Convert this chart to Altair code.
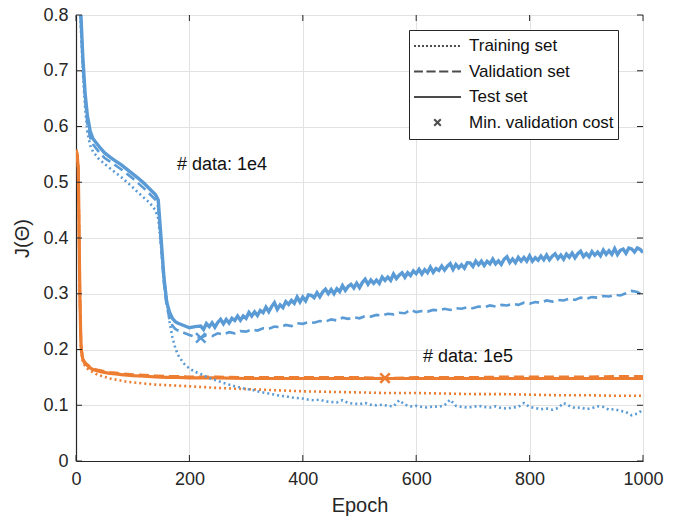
import altair as alt
import pandas as pd

# ---------------- data ----------------
blue_epochs_early = [0, 4, 8, 12, 16, 20, 25, 30, 40, 50,
                     60, 70, 80, 90, 100, 110, 120, 130, 140, 145,
                     150, 155, 160, 165, 170, 175, 180, 190, 200, 210]
blue_epochs_late = list(range(220, 1001, 10))      # train / validation sampling
blue_epochs_test_late = list(range(220, 1001, 5))  # test sampling (noisier)

blue_test_early = [0.98, 0.90, 0.815, 0.725, 0.66, 0.62, 0.592, 0.578, 0.565, 0.553,
                   0.545, 0.538, 0.531, 0.523, 0.515, 0.507, 0.498, 0.488, 0.478, 0.468,
                   0.40, 0.33, 0.285, 0.267, 0.256, 0.250, 0.247, 0.243, 0.239, 0.241]
blue_test_late = [
    0.242, 0.236, 0.2465, 0.241, 0.248, 0.240, 0.2485, 0.254, 0.246, 0.254,
    0.2475, 0.256, 0.252, 0.260, 0.2525, 0.260, 0.256, 0.2665, 0.260, 0.2675,
    0.261, 0.270, 0.266, 0.276, 0.268, 0.277, 0.284, 0.272, 0.280, 0.275,
    0.286, 0.281, 0.288, 0.283, 0.294, 0.285, 0.294, 0.287, 0.298, 0.297,
    0.293, 0.302, 0.2945, 0.303, 0.308, 0.300, 0.3075, 0.300, 0.309, 0.304,
    0.3145, 0.306, 0.313, 0.317, 0.3105, 0.319, 0.311, 0.320, 0.326, 0.317,
    0.3244, 0.3185, 0.3246, 0.3187, 0.3298, 0.3239, 0.330, 0.3241, 0.3352, 0.3273,
    0.3334, 0.3375, 0.3296, 0.3377, 0.3328, 0.3409, 0.336, 0.3438, 0.3355, 0.3433,
    0.338, 0.3478, 0.3385, 0.3453, 0.342, 0.3498, 0.3425, 0.3493, 0.354, 0.3438,
    0.3525, 0.3463, 0.352, 0.3458, 0.3555, 0.3553, 0.349, 0.3585, 0.3519, 0.3584,
    0.3508, 0.3583, 0.3537, 0.3622, 0.3536, 0.359, 0.3525, 0.3619, 0.3664, 0.3558,
    0.3623, 0.3557, 0.3652, 0.3586, 0.3651, 0.3585, 0.368, 0.3584, 0.3648, 0.3602,
    0.3676, 0.361, 0.3694, 0.3608, 0.3672, 0.3716, 0.363, 0.3694, 0.3618, 0.3712,
    0.3656, 0.373, 0.3644, 0.3718, 0.3762, 0.3666, 0.372, 0.3664, 0.3758, 0.3692,
    0.3746, 0.368, 0.3784, 0.3708, 0.3772, 0.3706, 0.381, 0.3704, 0.3778, 0.3802,
    0.3726, 0.382, 0.3804, 0.3748, 0.3822, 0.3796, 0.374]

blue_val = [0.97, 0.89, 0.805, 0.715, 0.65, 0.605, 0.58, 0.568, 0.555, 0.544,
            0.537, 0.530, 0.523, 0.515, 0.507, 0.498, 0.489, 0.479, 0.469, 0.455,
            0.39, 0.32, 0.278, 0.255, 0.243, 0.237, 0.234, 0.230, 0.226, 0.223,
            0.221, 0.226, 0.224, 0.229, 0.227, 0.231, 0.229, 0.233, 0.232, 0.236,
            0.234, 0.238, 0.237, 0.241, 0.240, 0.244, 0.242, 0.247, 0.246, 0.249,
            0.248, 0.251, 0.250, 0.254, 0.252, 0.257, 0.255, 0.258, 0.256, 0.260,
            0.259, 0.262, 0.261, 0.264, 0.263, 0.266, 0.265, 0.271, 0.267, 0.269,
            0.268, 0.271, 0.270, 0.273, 0.271, 0.274, 0.273, 0.276, 0.274, 0.277,
            0.276, 0.279, 0.277, 0.280, 0.279, 0.282, 0.280, 0.284, 0.282, 0.285,
            0.284, 0.288, 0.286, 0.289, 0.288, 0.291, 0.289, 0.293, 0.291, 0.294,
            0.293, 0.296, 0.295, 0.298, 0.297, 0.301, 0.305, 0.303, 0.298]

blue_train = [0.96, 0.88, 0.79, 0.70, 0.635, 0.59, 0.566, 0.555, 0.542, 0.533,
              0.525, 0.517, 0.509, 0.500, 0.491, 0.481, 0.472, 0.463, 0.450, 0.435,
              0.385, 0.33, 0.29, 0.25, 0.222, 0.203, 0.19, 0.175, 0.166, 0.160,
              0.156, 0.151, 0.147, 0.144, 0.140, 0.137, 0.134, 0.132, 0.129, 0.128,
              0.125, 0.123, 0.121, 0.119, 0.117, 0.116, 0.114, 0.113, 0.112, 0.110,
              0.109, 0.110, 0.107, 0.106, 0.105, 0.109, 0.104, 0.103, 0.102, 0.104,
              0.101, 0.100, 0.101, 0.099, 0.098, 0.109, 0.101, 0.098, 0.099, 0.097,
              0.096, 0.098, 0.097, 0.100, 0.110, 0.099, 0.097, 0.096, 0.097, 0.099,
              0.097, 0.096, 0.098, 0.095, 0.094, 0.096, 0.097, 0.104, 0.097, 0.095,
              0.093, 0.094, 0.092, 0.095, 0.104, 0.099, 0.095, 0.096, 0.093, 0.095,
              0.098, 0.097, 0.092, 0.093, 0.090, 0.088, 0.082, 0.085, 0.092]

orange_epochs = [0, 2, 4, 5, 6, 7, 8, 9, 10, 12,
                 15, 20, 25, 30, 40, 50, 60, 70, 80, 90,
                 100, 120, 140, 160, 180, 200, 250, 300, 350, 400,
                 450, 500, 545, 600, 650, 700, 750, 800, 850, 900,
                 950, 1000]

orange_test = [0.558, 0.550, 0.525, 0.45, 0.36, 0.29, 0.24, 0.205, 0.195, 0.183,
               0.176, 0.171, 0.167, 0.164, 0.161, 0.159, 0.157, 0.156, 0.155, 0.154,
               0.153, 0.152, 0.151, 0.150, 0.150, 0.149, 0.149, 0.148, 0.148, 0.148,
               0.148, 0.148, 0.148, 0.148, 0.148, 0.148, 0.148, 0.148, 0.148, 0.148,
               0.148, 0.148]

orange_val = [0.558, 0.550, 0.525, 0.45, 0.36, 0.29, 0.24, 0.207, 0.197, 0.185,
              0.178, 0.173, 0.169, 0.166, 0.163, 0.161, 0.159, 0.158, 0.157, 0.156,
              0.155, 0.154, 0.153, 0.152, 0.152, 0.151, 0.151, 0.150, 0.150, 0.150,
              0.150, 0.150, 0.1485, 0.150, 0.150, 0.150, 0.151, 0.151, 0.151, 0.151,
              0.152, 0.152]

orange_train = [0.558, 0.550, 0.525, 0.45, 0.36, 0.29, 0.235, 0.20, 0.19, 0.178,
                0.172, 0.166, 0.162, 0.159, 0.154, 0.151, 0.148, 0.146, 0.144, 0.142,
                0.141, 0.139, 0.137, 0.136, 0.135, 0.134, 0.131, 0.129, 0.127, 0.125,
                0.124, 0.123, 0.122, 0.122, 0.121, 0.120, 0.120, 0.119, 0.118, 0.118,
                0.117, 0.117]

min_epoch = [220, 545]
min_cost = [0.221, 0.1485]

annot_epoch = [178, 612]
annot_cost = [0.531, 0.186]
annot_text = ["# data: 1e4", "# data: 1e5"]

x_ticks = [0, 200, 400, 600, 800, 1000]
y_ticks = [0, 0.1, 0.2, 0.3, 0.4, 0.5, 0.6, 0.7, 0.8]

legend_labels = ["Training set", "Validation set", "Test set", "Min. validation cost"]

# ---------------- styling ----------------
BLUE = "#5B9BD5"
ORANGE = "#ED7D31"
AXC = "#262626"
FONT = "Liberation Sans"
W, H = 567, 446

xs = alt.Scale(domain=[0, 1000], nice=False, zero=False)
ys = alt.Scale(domain=[0, 0.8], nice=False)

xax = alt.Axis(values=x_ticks, format="d", title="Epoch", grid=True, gridColor="#e2e2e2", gridWidth=1,
               tickSize=0, domainColor=AXC, domainWidth=1.2, labelFont=FONT, labelFontSize=18,
               labelColor=AXC, labelPadding=9, labelFlush=False, labelOverlap=False,
               titleFont=FONT, titleFontSize=20, titleFontWeight="normal", titleColor=AXC,
               titlePadding=7)
yax = alt.Axis(values=y_ticks, format=".1~f", title="J(Θ)", grid=True, gridColor="#e2e2e2",
               gridWidth=1, tickSize=0, domainColor=AXC, domainWidth=1.2, labelFont=FONT,
               labelFontSize=18, labelColor=AXC, labelPadding=8, labelFlush=False,
               labelOverlap=False, titleFont=FONT, titleFontSize=20, titleFontWeight="normal",
               titleColor=AXC, titlePadding=10)


def line_layer(ep, vals, color, dash=None, width=3.0):
    df = pd.DataFrame({"epoch": ep, "J": vals})
    kw = dict(color=color, strokeWidth=width, clip=True)
    if dash is not None:
        kw["strokeDash"] = dash
    return alt.Chart(df).mark_line(**kw).encode(
        x=alt.X("epoch:Q", scale=xs, axis=xax),
        y=alt.Y("J:Q", scale=ys, axis=yax),
    )


DOT = [2, 3]
DASH = [10, 5]

layers = [
    line_layer(orange_epochs, orange_train, ORANGE, DOT, 2.6),
    line_layer(orange_epochs, orange_test, ORANGE, None, 3.2),
    line_layer(orange_epochs, orange_val, ORANGE, DASH, 2.6),
    line_layer(blue_epochs_early + blue_epochs_late, blue_train, BLUE, DOT, 2.6),
    line_layer(blue_epochs_early + blue_epochs_test_late, blue_test_early + blue_test_late,
               BLUE, None, 3.4),
    line_layer(blue_epochs_early + blue_epochs_late, blue_val, BLUE, DASH, 2.6),
]

# min validation markers
mk_df = pd.DataFrame({"epoch": min_epoch, "J": min_cost, "c": [BLUE, ORANGE]})
xpath = "M-1,-1L1,1M-1,1L1,-1"
layers.append(
    alt.Chart(mk_df).mark_point(shape=xpath, size=90, strokeWidth=2.5, filled=False, opacity=1).encode(
        x=alt.X("epoch:Q", scale=xs, axis=xax),
        y=alt.Y("J:Q", scale=ys, axis=yax),
        color=alt.Color("c:N", scale=None),
    )
)

# annotations
an_df = pd.DataFrame({"epoch": annot_epoch, "J": annot_cost, "t": annot_text})
layers.append(
    alt.Chart(an_df).mark_text(align="left", baseline="middle", font=FONT, fontSize=18,
                               color="#111111").encode(
        x=alt.X("epoch:Q", scale=xs, axis=xax),
        y=alt.Y("J:Q", scale=ys, axis=yax),
        text="t:N",
    )
)

# inward ticks (bottom/top/left/right)
xt_df = pd.DataFrame({"epoch": x_ticks})
yt_df = pd.DataFrame({"J": y_ticks})
layers.append(alt.Chart(xt_df).mark_rule(color=AXC, strokeWidth=1).encode(
    x=alt.X("epoch:Q", scale=xs, axis=xax), y=alt.value(H), y2=alt.value(H - 6)))
layers.append(alt.Chart(xt_df).mark_rule(color=AXC, strokeWidth=1).encode(
    x=alt.X("epoch:Q", scale=xs, axis=xax), y=alt.value(0), y2=alt.value(6)))
layers.append(alt.Chart(yt_df).mark_rule(color=AXC, strokeWidth=1).encode(
    y=alt.Y("J:Q", scale=ys, axis=yax), x=alt.value(0), x2=alt.value(6)))
layers.append(alt.Chart(yt_df).mark_rule(color=AXC, strokeWidth=1).encode(
    y=alt.Y("J:Q", scale=ys, axis=yax), x=alt.value(W), x2=alt.value(W - 6)))

# legend (symbols are line samples / cross drawn as SVG paths)
dotted_path = "".join("M%.3f,0H%.3f" % (-1 + i * 0.17, -1 + i * 0.17 + 0.085) for i in range(12))
dashed_path = "M-1,0H-0.62M-0.47,0H-0.08M0.07,0H0.46M0.62,0H1"
solid_path = "M-1,0H1"
cross_path = "M-0.14,-0.14L0.14,0.14M-0.14,0.14L0.14,-0.14"
leg_df = pd.DataFrame({"item": legend_labels})
layers.append(
    alt.Chart(leg_df).mark_point(filled=False, color="black", clip=True).encode(
        x=alt.value(-300), y=alt.value(-300),
        shape=alt.Shape("item:N",
                        scale=alt.Scale(domain=legend_labels,
                                        range=[dotted_path, dashed_path, solid_path, cross_path]),
                        legend=alt.Legend(title=None, orient="none", legendX=333, legendY=15,
                                          direction="vertical", strokeColor=AXC, fillColor="white",
                                          padding=4, symbolSize=2209, symbolStrokeWidth=2,
                                          symbolStrokeColor="black", clipHeight=24, rowPadding=1.5,
                                          labelFont=FONT, labelFontSize=17, labelColor="#111111",
                                          labelOffset=7, labelLimit=400)),
    )
)

chart = alt.layer(*layers).properties(
    width=W, height=H,
    autosize=alt.AutoSizeParams(type="none"),
    padding={"left": 76, "top": 15, "right": 33, "bottom": 61},
).configure_view(stroke=AXC, strokeWidth=1.2).configure(font=FONT, background="white")

chart.save("out.html", embed_options={"renderer": "svg", "actions": False})
